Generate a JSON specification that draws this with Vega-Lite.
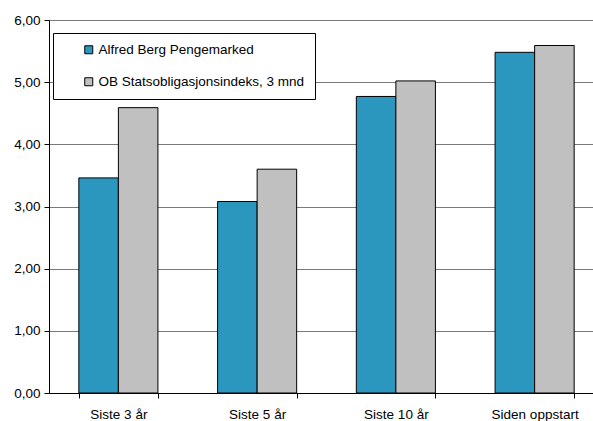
{
  "$schema": "https://vega.github.io/schema/vega-lite/v6.json",
  "autosize": {"type": "none"},
  "padding": {"left": 49, "top": 20, "right": 0, "bottom": 28},
  "width": 555,
  "height": 373,
  "background": "white",
  "data": {
    "values": [
      {"periode": "Siste 3 år", "serie": "Alfred Berg Pengemarked", "avkastning": 3.46},
      {"periode": "Siste 3 år", "serie": "OB Statsobligasjonsindeks, 3 mnd", "avkastning": 4.59},
      {"periode": "Siste 5 år", "serie": "Alfred Berg Pengemarked", "avkastning": 3.08},
      {"periode": "Siste 5 år", "serie": "OB Statsobligasjonsindeks, 3 mnd", "avkastning": 3.60},
      {"periode": "Siste 10 år", "serie": "Alfred Berg Pengemarked", "avkastning": 4.77},
      {"periode": "Siste 10 år", "serie": "OB Statsobligasjonsindeks, 3 mnd", "avkastning": 5.02},
      {"periode": "Siden oppstart", "serie": "Alfred Berg Pengemarked", "avkastning": 5.48},
      {"periode": "Siden oppstart", "serie": "OB Statsobligasjonsindeks, 3 mnd", "avkastning": 5.59}
    ]
  },
  "mark": {"type": "bar", "stroke": "#000000", "strokeWidth": 1},
  "encoding": {
    "x": {
      "field": "periode",
      "type": "nominal",
      "sort": ["Siste 3 år", "Siste 5 år", "Siste 10 år", "Siden oppstart"],
      "scale": {"paddingInner": 0.43, "paddingOuter": 0.215},
      "axis": {
        "title": null,
        "labelAngle": 0,
        "tickBand": "extent",
        "grid": false,
        "domainColor": "#000000",
        "tickColor": "#000000",
        "tickSize": 5,
        "labelPadding": 9,
        "labelFont": "Liberation Sans",
        "labelFontSize": 13.5,
        "labelColor": "#000000"
      }
    },
    "xOffset": {
      "field": "serie",
      "type": "nominal",
      "scale": {"paddingInner": 0, "paddingOuter": 0}
    },
    "y": {
      "field": "avkastning",
      "type": "quantitative",
      "scale": {"domain": [0, 6], "nice": false},
      "axis": {
        "title": null,
        "values": [0, 1, 2, 3, 4, 5, 6],
        "labelExpr": "replace(format(datum.value, '.2f'), '.', ',')",
        "grid": true,
        "gridColor": "#7A7A7A",
        "gridWidth": 1,
        "domainColor": "#000000",
        "tickColor": "#000000",
        "tickSize": 5,
        "labelPadding": 4,
        "labelFont": "Liberation Sans",
        "labelFontSize": 13.5,
        "labelColor": "#000000"
      }
    },
    "color": {
      "field": "serie",
      "type": "nominal",
      "scale": {
        "domain": ["Alfred Berg Pengemarked", "OB Statsobligasjonsindeks, 3 mnd"],
        "range": ["#2B97BE", "#C0C0C0"]
      },
      "legend": {
        "title": null,
        "orient": "none",
        "legendX": 4,
        "legendY": 13,
        "padding": 10,
        "symbolOffset": 19,
        "symbolType": "square",
        "symbolSize": 64,
        "symbolStrokeColor": "#000000",
        "symbolStrokeWidth": 1,
        "labelOffset": 3,
        "labelFont": "Liberation Sans",
        "labelFontSize": 13.5,
        "labelColor": "#000000",
        "labelLimit": 400,
        "rowPadding": 17,
        "strokeColor": "#000000",
        "fillColor": "#FFFFFF"
      }
    }
  },
  "config": {
    "view": {"stroke": null},
    "axis": {"domainWidth": 1, "tickWidth": 1}
  }
}
